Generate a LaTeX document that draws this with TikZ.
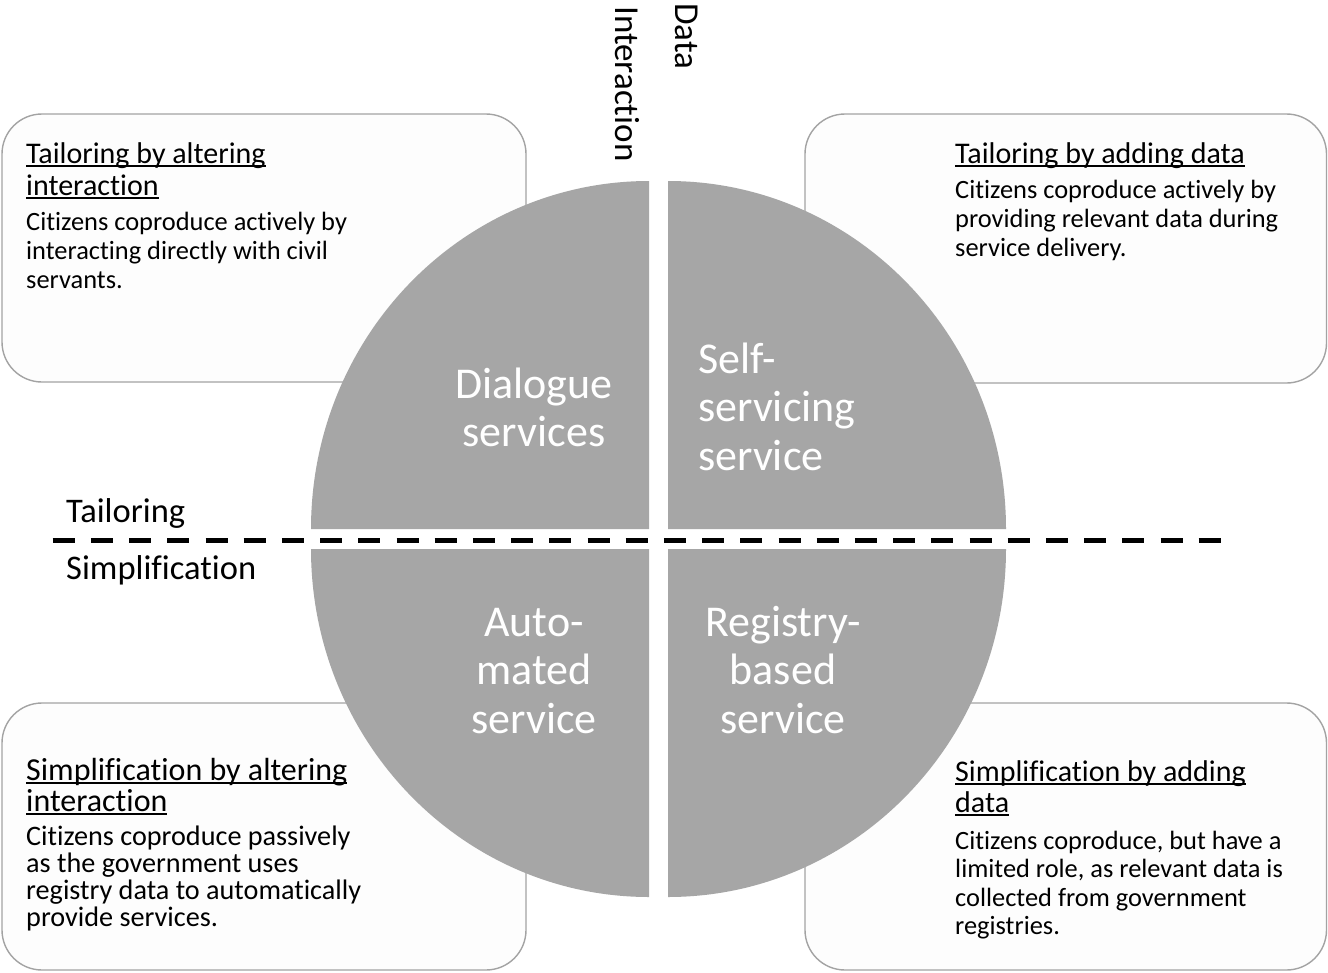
\documentclass[tikz,border=0pt]{standalone}
\usepackage{fontspec}
\setmainfont{Carlito}[Ligatures={NoCommon}]
\definecolor{quadgray}{HTML}{A6A6A6}
\definecolor{boxline}{HTML}{A3A3A3}
\definecolor{boxfill}{HTML}{FDFDFD}
% stacked lines with a fixed line pitch; the baseline is the first line's
\newcommand\leftlines[2]{\vtop{\baselineskip=#1\lineskiplimit=-100pt\halign{##\hfil\cr#2\crcr}}}
\newcommand\centerlines[2]{\vtop{\baselineskip=#1\lineskiplimit=-100pt\halign{\hfil##\hfil\cr#2\crcr}}}
% underline that runs just below the baseline, through the descenders
\newcommand\undl[1]{\setbox0\hbox{#1}\rlap{\rule[-3.6pt]{\wd0}{1.7pt}}\box0}
\begin{document}
\begin{tikzpicture}[x=1pt,y=-1pt,
  infobox/.style={draw=boxline, fill=boxfill, line width=1.4pt, rounded corners=40pt},
  quadrant/.style={fill=quadgray},
  headtxt/.style={anchor=base west, inner sep=0pt, font=\fontsize{30}{32}\selectfont},
  bodytxt/.style={anchor=base west, inner sep=0pt, font=\fontsize{26.4}{29}\selectfont},
  quadtxt/.style={inner sep=0pt, text=white, font=\fontsize{44}{48.5}\selectfont},
  axistxt/.style={inner sep=0pt, font=\fontsize{34.5}{38}\selectfont},
  dashline/.style={line width=5pt, dash pattern=on 22pt off 16.2pt}]
\useasboundingbox (0,0) rectangle (1328,972);
\fill[white] (0,0) rectangle (1328,972);

% the four description boxes
\draw[infobox] (2,114) rectangle (526,382);
\draw[infobox] (805,114) rectangle (1326.5,383);
\draw[infobox] (2,703) rectangle (526,970);
\draw[infobox] (805,703) rectangle (1326.5,970);

% the split disc
\fill[quadrant] (649,529) -- (311,529) arc[start angle=180, end angle=90, x radius=338pt, y radius=348pt] -- cycle;
\fill[quadrant] (668,529) -- (668,181) arc[start angle=90, end angle=0, x radius=338pt, y radius=348pt] -- cycle;
\fill[quadrant] (649,549) -- (311,549) arc[start angle=180, end angle=270, x radius=338pt, y radius=348pt] -- cycle;
\fill[quadrant] (668,549) -- (1006,549) arc[start angle=0, end angle=-90, x radius=338pt, y radius=348pt] -- cycle;

% tailoring / simplification divider
\coordinate (dashL) at (52.7,540);
\coordinate (dashR) at (1220.7,540);
\draw[dashline] (dashL) -- (dashR);

% axis labels
\node[axistxt, anchor=base west] (tail) at (66,522) {Tailoring};
\node[axistxt, anchor=base west] (simp) at (66,579) {Simplification};
\node[axistxt, anchor=base west, rotate=-90, font=\fontsize{35}{38}\selectfont] (inter) at (615,6) {Interaction};
\node[axistxt, anchor=base west, rotate=-90, font=\fontsize{35}{38}\selectfont] (data) at (675,3) {Data};

% quadrant names
\node[quadtxt, anchor=base] (dialogue) at (534,398) {\centerlines{48.5pt}{Dialogue\cr services}};
\node[quadtxt, anchor=base west] (selfserv) at (698,373) {\leftlines{48.5pt}{Self-\cr servicing\cr service}};
\node[quadtxt, anchor=base] (automated) at (534,636) {\centerlines{48.5pt}{Auto-\cr mated\cr service}};
\node[quadtxt, anchor=base] (registry) at (783,636) {\centerlines{48.5pt}{Registry-\cr based\cr service}};

% box texts
\node[headtxt] (h1) at (26,163) {\leftlines{32pt}{\undl{Tailoring by altering}\cr\undl{interaction}}};
\node[bodytxt] (b1) at (26,230) {\leftlines{29pt}{Citizens coproduce actively by\cr interacting directly with civil\cr servants.}};

\node[headtxt] (h2) at (955,163) {\undl{Tailoring by adding data}};
\node[bodytxt] (b2) at (955,198) {\leftlines{29pt}{Citizens coproduce actively by\cr providing relevant data during\cr service delivery.}};

\node[headtxt, font=\fontsize{32}{32}\selectfont] (h3) at (26,780) {\leftlines{31pt}{\undl{Simplification by altering}\cr\undl{interaction}}};
\node[bodytxt, font=\fontsize{28.2}{27}\selectfont] (b3) at (26,845) {\leftlines{27pt}{Citizens coproduce passively\cr as the government uses\cr registry data to automatically\cr provide services.}};

\node[headtxt] (h4) at (955,781) {\leftlines{31pt}{\undl{Simplification by adding}\cr\undl{data}}};
\node[bodytxt] (b4) at (955,849) {\leftlines{28.5pt}{Citizens coproduce, but have a\cr limited role, as relevant data is\cr collected from government\cr registries.}};
\end{tikzpicture}
\end{document}
